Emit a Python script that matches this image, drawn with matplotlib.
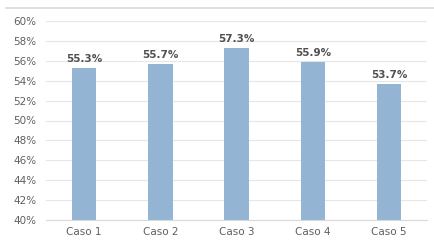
import matplotlib
matplotlib.use('Agg')
import matplotlib.pyplot as plt
from matplotlib.lines import Line2D

# chart data
categories = ['Caso 1', 'Caso 2', 'Caso 3', 'Caso 4', 'Caso 5']
values = [55.3, 55.7, 57.3, 55.9, 53.7]
y_ticks = list(range(40, 61, 2))

plt.rcParams['font.family'] = ['DejaVu Sans']

fig = plt.figure(figsize=(4.35, 2.41), dpi=100)
ax = fig.add_axes([0.106, 0.087, 0.876, 0.826])

x = range(len(categories))
ax.bar(x, values, width=0.32, color='#93b5d3', zorder=2)
for xi, v in zip(x, values):
    ax.text(xi, v + 0.4, f'{v:.1f}%', ha='center', va='bottom',
            fontsize=7.5, fontweight='bold', color='#505050')

ax.set_xlim(-0.5, len(categories) - 0.5)
ax.set_ylim(40, 60)
ax.set_yticks(y_ticks)
ax.set_yticklabels([f'{t}%' for t in y_ticks])
ax.set_xticks(list(x))
ax.set_xticklabels(categories)
ax.tick_params(axis='both', length=0, labelsize=7.5, colors='#606060')
ax.tick_params(axis='y', pad=7)
ax.tick_params(axis='x', pad=5)
ax.yaxis.grid(True, color='#e6e6e6', linewidth=0.8, zorder=0)
for side in ['top', 'right', 'left']:
    ax.spines[side].set_visible(False)
ax.spines['bottom'].set_color('#d9d9d9')

# thin grey frame line along the top of the picture
fig.add_artist(Line2D([0.014, 1.0], [0.967, 0.967], color='#d9d9d9',
                      linewidth=1.2, transform=fig.transFigure))

fig.savefig('out.png', dpi=100)
